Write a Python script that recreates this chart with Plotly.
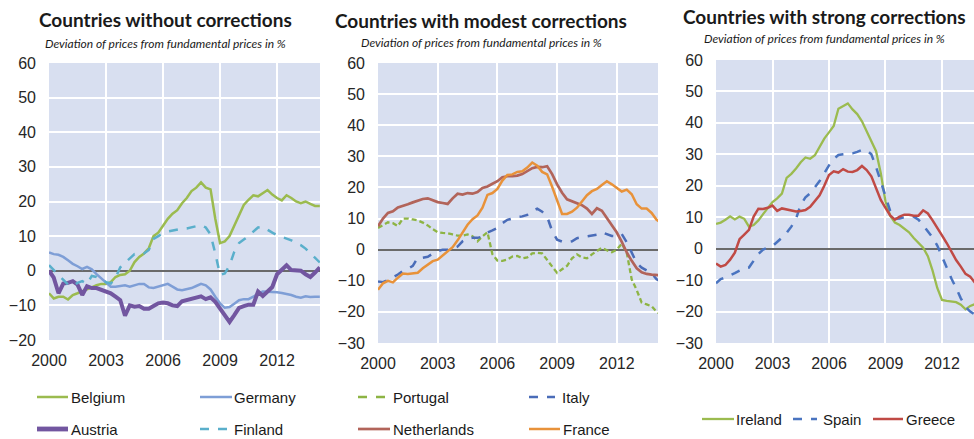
import plotly.graph_objects as go

# Quarterly observations, 2000Q1 .. 2014Q2
quarters = [2000 + q / 4 for q in range(58)]

# --- Countries without corrections -------------------------------------
belgium = [-6.5, -8, -7.5, -7.5, -8.3, -7, -6.5, -6, -5.5, -4.8, -4.2, -3.8, -3.8, -3.3,
           -1.8, -1.2, -1, 0, 2.5, 4, 5, 6.5, 10, 11, 13, 15, 16.5, 17.5, 19.5, 21, 23,
           24, 25.5, 24, 23.5, 15, 8, 8.5, 10, 13, 16.5, 19, 20.5, 21.8, 21.5, 22.5, 23.3,
           22, 21, 20.3, 21.8, 21, 20, 19.5, 20, 19.3, 18.7, 18.7]
germany = [5.3, 4.8, 4.6, 4, 3, 2, 1.3, 0.5, 1.1, 0.4, -1, -2.2, -3.5, -4.6, -4.6, -4.3,
           -4.2, -4.6, -4.2, -3.8, -3.8, -4.8, -5, -4.6, -4.4, -3.8, -4.6, -5.4, -5.6, -5.4,
           -5, -4.4, -3.8, -4.2, -5.4, -7.5, -9.4, -10.7, -10.5, -9.5, -8.5, -8.2, -8.2,
           -7.5, -6.6, -6, -6, -6.2, -6.2, -6.4, -6.6, -7, -7.5, -7.8, -7.4, -7.6, -7.5, -7.5]
austria = [0, -2, -6.5, -3.7, -3.5, -3, -4, -7, -4.5, -5, -5, -5.4, -6, -6.5, -7.5, -8.5,
           -13, -10, -10.4, -10.2, -11, -11, -10.2, -9.4, -9.2, -9.4, -10, -10.2, -8.8,
           -8.4, -8, -7.8, -7.4, -8.2, -7.7, -9, -11, -13, -14.8, -12.8, -10.7, -10.2, -9.8,
           -9.8, -6, -7.3, -6, -4.7, -1, 0.5, 1.6, 0.2, 0, 0, -1, -1.8, -0.5, 1]
finland = [1.6, 0.2, -1.5, -2.8, -4, -4.5, -3.5, -3, -3.8, -1.5, -1.8, -2.5, -3.3, -3.7,
           -2, 1, 2.3, 3.5, 4.8, 4.6, 5, 6, 9.2, 10, 10.8, 11.3, 11.6, 12, 12.2, 12.2, 12.5,
           12.7, 13.2, 12.5, 10.5, 5, -1.2, -0.8, 1.5, 5.5, 8, 9, 10, 11.3, 12.5, 12.7, 11.8,
           11, 10.3, 9.8, 9.5, 8.8, 8, 7.4, 6.4, 5, 3.5, 2.4]

# --- Countries with modest corrections ---------------------------------
portugal = [7, 8, 8.8, 8.5, 7.6, 10, 10, 9.7, 9.4, 8.7, 7.8, 6.6, 5.6, 5.4, 5.3, 4.9, 4.5,
            4.5, 4.9, 4.3, 2.7, 4.3, 5.6, -1.5, -3.5, -3.6, -3.2, -2.2, -2, -2.8, -2.5,
            -1.2, -1, -1.2, -3.2, -5.5, -7.5, -6.3, -5.2, -2.8, -1.5, -2.5, -2.8, -1.5, -0.5,
            0.6, -0.2, -0.8, 0, 1.9, -1, -9.6, -13, -17, -17.6, -18.2, -20, -21]
italy = [-10.2, -10.4, -9.8, -9, -8, -6.8, -6.2, -5.2, -2.5, -2.6, -2.3, -1.3, -0.5, 0, 0,
         0.3, 1, 2.7, 3.6, 3.8, 3.8, 4.2, 5.5, 6.2, 7, 8.5, 9.6, 10, 10.5, 10.7, 11.2, 12.5,
         13.2, 12.2, 10.6, 6, 3.2, 2.6, 2.4, 2.7, 3.7, 4, 4.3, 4.4, 4.8, 5.6, 5, 4.4, 4.3, 5,
         2.4, -1, -4.3, -5.8, -6.8, -7.6, -9.5, -10.5]
netherlands = [7.5, 10, 11.8, 12.3, 13.6, 14, 14.6, 15.2, 15.8, 16.3, 16.5, 15.8, 15.3, 15,
               14.7, 16.5, 18, 17.7, 18.2, 18, 18.5, 19.8, 20.3, 21.2, 22, 23.3, 23.6, 23.6,
               23.8, 24.3, 25.3, 26.2, 26.6, 26.5, 26.8, 24.3, 21, 18.3, 16.2, 15.5, 15, 14.3,
               13.2, 11.5, 13.3, 12.5, 10.2, 8, 5.5, 2.5, -0.9, -3.6, -6, -7.3, -7.8, -8, -8.2,
               -8.3]
france = [-12.9, -10.8, -10, -10.5, -9, -7.7, -7.8, -7.7, -7.4, -6, -4.8, -3.7, -3.2, -1.8,
          -0.3, 0.8, 3, 5.5, 8, 9.8, 11, 13.5, 17.6, 18.2, 19.5, 22.2, 24, 24.2, 25, 25.2,
          26.4, 28, 27, 25, 24.2, 20.2, 15.5, 11.5, 11.5, 12.2, 13.5, 15.5, 17.5, 18.8, 19.5,
          20.8, 22, 21, 19.8, 18.7, 19.3, 17.8, 14.6, 13.2, 13.2, 11.8, 9.6, 8.5]

# --- Countries with strong corrections ---------------------------------
ireland = [7.9, 8.3, 9.2, 10.3, 9.3, 10.2, 9.5, 7, 7.5, 9, 11, 13, 14.8, 16, 17.5, 22.5,
           23.8, 25.5, 27.5, 29, 28.6, 29.7, 32.5, 35, 37, 39, 44.5, 45.3, 46.2, 44.3, 42.8,
           40.5, 37.5, 34.5, 31, 24, 15, 10.5, 8.3, 7.5, 6.4, 5.2, 3.4, 2, 0.3, -2.4, -7,
           -12.5, -16.3, -16.6, -16.8, -17, -17.8, -19.3, -18.2, -17.5, -17, -16.5]
spain = [-11, -9.7, -9.2, -8.6, -7.8, -7, -6.3, -6, -3.9, -1.7, -0.3, 0.4, 0.8, 2, 3.5, 5, 7,
         9.5, 14, 16.3, 17.6, 19.5, 21.5, 24, 26.5, 28.5, 29.8, 30, 30.1, 30.3, 30.8, 31.4,
         31.3, 30, 26, 21.5, 16.5, 12, 9.5, 9.6, 10, 10.3, 10.2, 9.2, 7.5, 5.6, 3.5, 1, -2.5,
         -6.5, -9.5, -12.5, -15.8, -18.5, -20, -21, -22, -22.5]
greece = [-4.7, -5.7, -5.2, -3.5, -1.3, 3, 4.5, 6, 10.2, 12.7, 12.6, 13, 13.7, 12, 12.8,
          12.5, 12, 11.8, 12, 12.3, 13.3, 15.2, 17, 20, 23.4, 24.6, 24.2, 25.3, 24.5, 24.4,
          25, 26.3, 25, 23, 19, 15.5, 13, 10.6, 9.2, 10.2, 10.8, 10.8, 10.5, 10.5, 12.2, 11.2,
          9, 6.8, 4.2, 1.8, -0.9, -3.6, -5.7, -8, -8.9, -10.8, -12, -13]

year_ticks = [2000, 2003, 2006, 2009, 2012]
titles = ["Countries without corrections", "Countries with modest corrections",
          "Countries with strong corrections"]
subtitle = "Deviation of prices from fundamental prices in %"

W, H = 974, 439
FONT = "Liberation Sans, Arial, sans-serif"
TITLE_FONT = "Lato, Open Sans, sans-serif"

# (name, values, colour, dash, width, panel)
series = [
    ("Belgium", belgium, "#9BBB4F", "solid", 2.5, 1),
    ("Germany", germany, "#7E9ED6", "solid", 2.5, 1),
    ("Austria", austria, "#7256A0", "solid", 4.0, 1),
    ("Finland", finland, "#5AAFCB", "dash", 2.5, 1),
    ("Portugal", portugal, "#8DB444", "5px,3px", 2.3, 2),
    ("Italy", italy, "#4A6CB8", "dash", 2.5, 2),
    ("Netherlands", netherlands, "#B2645A", "solid", 2.7, 2),
    ("France", france, "#E8923A", "solid", 2.5, 2),
    ("Ireland", ireland, "#9BBB4F", "solid", 2.3, 3),
    ("Spain", spain, "#4A74C0", "dash", 2.5, 3),
    ("Greece", greece, "#C04A45", "solid", 2.5, 3),
]

fig = go.Figure()
for name, vals, col, dash, lw, p in series:
    fig.add_trace(go.Scatter(
        x=quarters, y=vals, name=name, mode="lines",
        line=dict(color=col, dash=dash, width=lw),
        xaxis="x" if p == 1 else f"x{p}", yaxis="y" if p == 1 else f"y{p}",
        showlegend=False, hoverinfo="x+y+name",
    ))

# panel frames in pixels: (left, right, top, bottom), x end year, y range
panels = [
    (49, 320, 63, 340, 2014.26, [-20, 60]),
    (378, 658, 63, 343, 2014.07, [-30, 60]),
    (716, 974, 60, 343, 2013.7, [-30, 60]),
]

layout = dict(
    width=W, height=H, margin=dict(l=0, r=0, t=0, b=0, autoexpand=False),
    paper_bgcolor="white", plot_bgcolor="#D8DFF0",
    font=dict(family=FONT, color="#262626"), showlegend=False,
)
for i, (l, r, t, b, xend, yr) in enumerate(panels, start=1):
    sfx = "" if i == 1 else str(i)
    layout[f"xaxis{sfx}"] = dict(
        domain=[l / W, r / W], range=[2000, xend], tickvals=year_ticks,
        ticktext=[str(v) for v in year_ticks], anchor=f"y{sfx}",
        showgrid=True, gridcolor="white", gridwidth=1.5, zeroline=False,
        showline=False, ticks="", tickfont=dict(size=16, color="#262626"),
        ticklabelstandoff=9, fixedrange=True, automargin=False,
    )
    layout[f"yaxis{sfx}"] = dict(
        domain=[1 - b / H, 1 - t / H], range=yr, dtick=10, anchor=f"x{sfx}",
        showgrid=True, gridcolor="white", gridwidth=1.5,
        zeroline=True, zerolinecolor="#6A6A6A", zerolinewidth=2,
        showline=False, ticks="", tickfont=dict(size=16, color="#262626"),
        ticklabelstandoff=12, fixedrange=True, automargin=False,
    )

annotations = []
shapes = []
# panel headings
for txt, cx, ty, sy in zip(titles, [165, 481, 824], [20, 21, 17], [43, 42, 38]):
    annotations.append(dict(
        text=f"<b>{txt}</b>", x=cx / W, y=1 - ty / H, xref="paper", yref="paper",
        xanchor="center", yanchor="middle", showarrow=False,
        font=dict(family=TITLE_FONT, size=19, color="#1a1a1a")))
    annotations.append(dict(
        text=f"<i>{subtitle}</i>", x=cx / W, y=1 - sy / H, xref="paper", yref="paper",
        xanchor="center", yanchor="middle", showarrow=False,
        font=dict(family=TITLE_FONT, size=12, color="#1a1a1a")))

# legend keys: name -> (swatch x0, swatch x1, text x, y)
legend_pos = {
    "Belgium": (37, 68, 70, 397), "Germany": (200, 232, 233, 397),
    "Austria": (37, 68, 70, 429), "Finland": (200, 228, 233, 429),
    "Portugal": (358, 387, 392, 397), "Netherlands": (358, 390, 392, 429),
    "Italy": (529, 555, 561, 397), "France": (529, 560, 562, 429),
    "Ireland": (702, 734, 735, 419), "Spain": (793, 817, 822, 419),
    "Greece": (873, 903, 905, 419),
}
for name, vals, col, dash, lw, p in series:
    x0, x1, tx, y = legend_pos[name]
    shapes.append(dict(
        type="line", xref="paper", yref="paper", x0=x0 / W, x1=x1 / W,
        y0=1 - y / H, y1=1 - y / H,
        line=dict(color=col, width=lw + (0.8 if name == "Austria" else 0),
                  dash=("dash" if dash != "solid" else "solid"))))
    annotations.append(dict(
        text=name, x=tx / W, y=1 - y / H, xref="paper", yref="paper",
        xanchor="left", yanchor="middle", showarrow=False, borderpad=0,
        font=dict(family=FONT, size=15, color="#1a1a1a")))

layout["annotations"] = annotations
layout["shapes"] = shapes
fig.update_layout(**layout)
fig.write_html("out.html")
